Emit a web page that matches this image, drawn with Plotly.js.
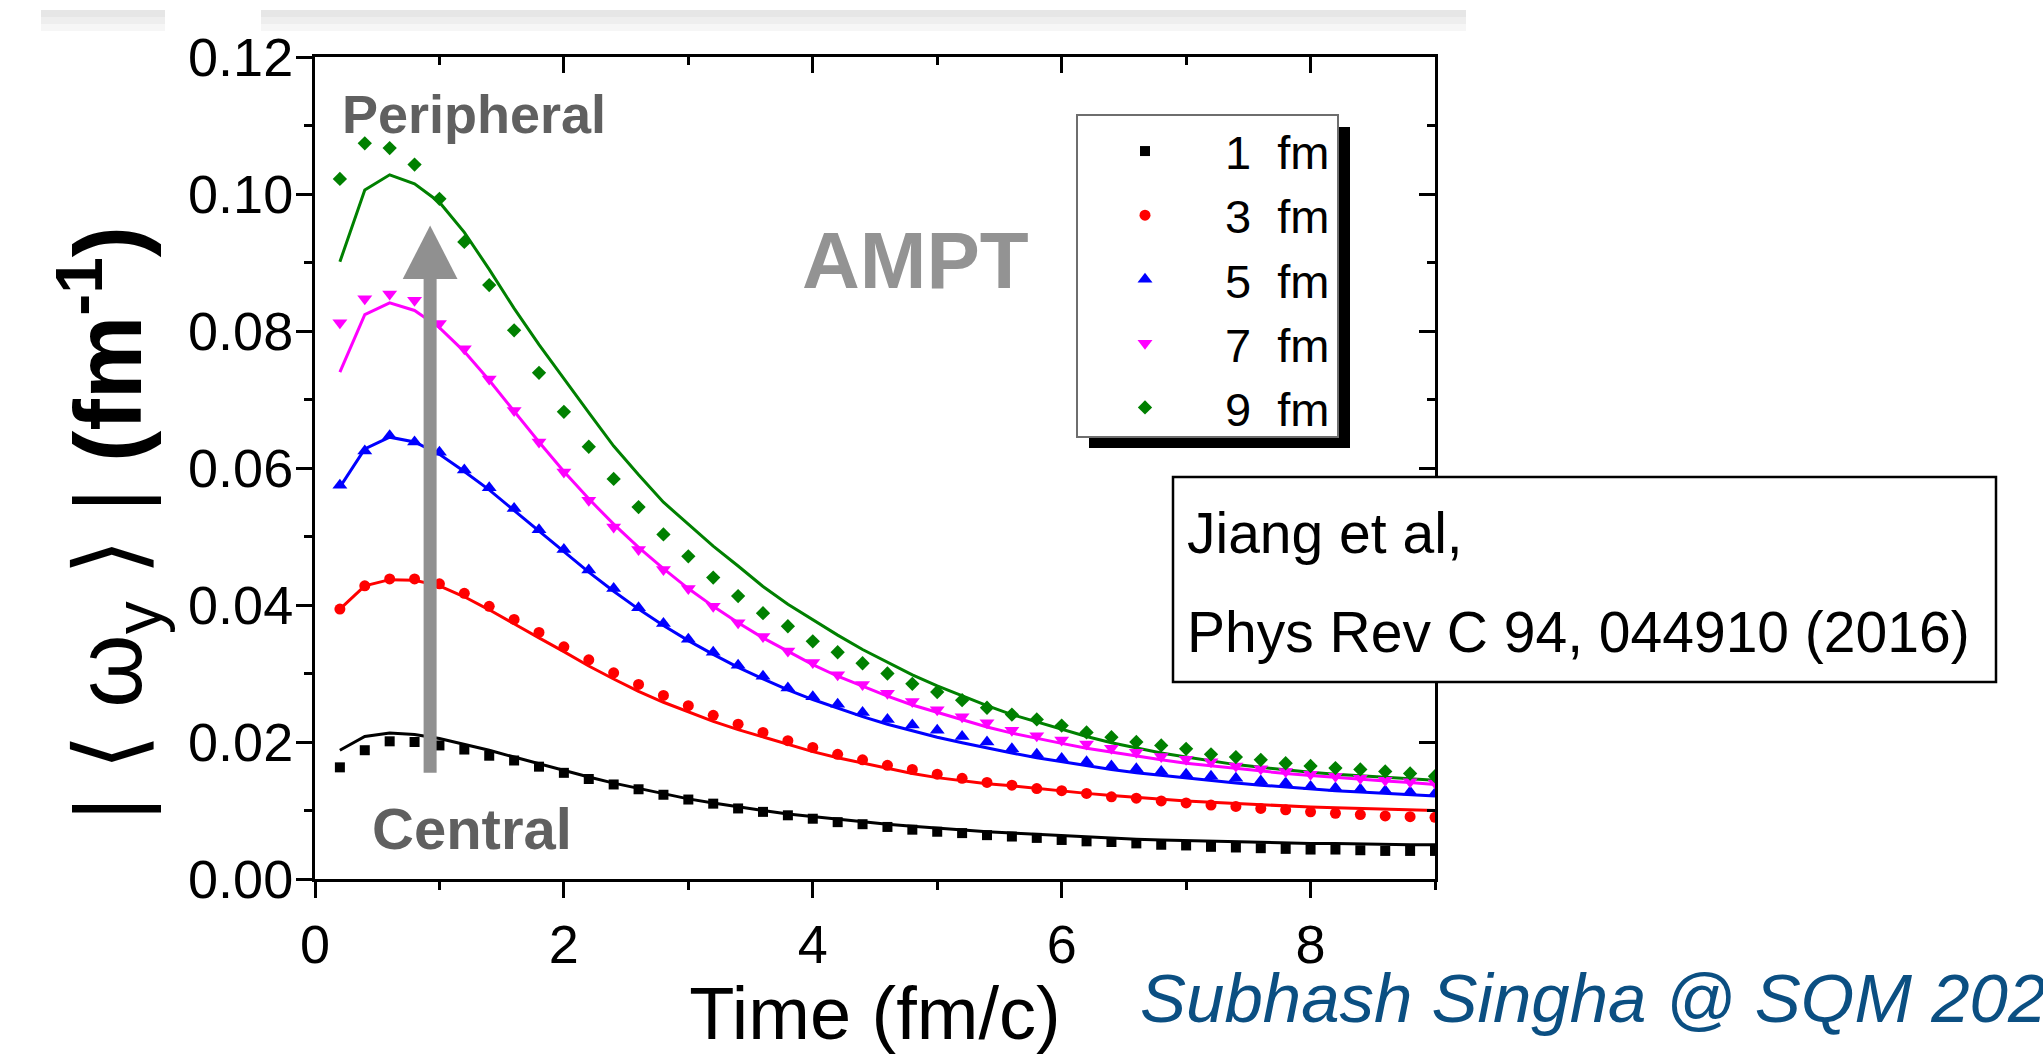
<!DOCTYPE html>
<html>
<head>
<meta charset="utf-8">
<script src="https://cdn.plot.ly/plotly-3.0.1.min.js"></script>
<style>html,body{margin:0;padding:0;background:#fff;}#chart{width:2043px;height:1055px;}</style>
</head>
<body>
<div id="chart"></div>
<script>
// ---- data ----
const time = [0.2,0.4,0.6,0.8,1.0,1.2,1.4,1.6,1.8,2.0,2.2,2.4,2.6,2.8,3.0,3.2,3.4,3.6,3.8,4.0,4.2,4.4,4.6,4.8,5.0,5.2,5.4,5.6,5.8,6.0,6.2,6.4,6.6,6.8,7.0,7.2,7.4,7.6,7.8,8.0,8.2,8.4,8.6,8.8,9.0];
const seriesNames = ['1\u00a0\u00a0fm','3\u00a0\u00a0fm','5\u00a0\u00a0fm','7\u00a0\u00a0fm','9\u00a0\u00a0fm'];

const pts_b1 = [0.0163,0.0188,0.0201,0.0200,0.0195,0.0189,0.0180,0.0173,0.0164,0.0155,0.0146,0.0138,0.0131,0.0123,0.0116,0.0110,0.0103,0.0098,0.0093,0.0088,0.0083,0.0080,0.0076,0.0072,0.0069,0.0067,0.0064,0.0062,0.0060,0.0057,0.0055,0.0054,0.0052,0.0050,0.0049,0.0047,0.0046,0.0045,0.0044,0.0043,0.0043,0.0042,0.0041,0.0041,0.0041];
const pts_b3 = [0.0394,0.0428,0.0438,0.0438,0.0431,0.0417,0.0398,0.0379,0.0360,0.0339,0.0320,0.0301,0.0284,0.0268,0.0253,0.0239,0.0226,0.0214,0.0202,0.0192,0.0182,0.0174,0.0166,0.0160,0.0153,0.0147,0.0141,0.0137,0.0132,0.0129,0.0125,0.0120,0.0118,0.0114,0.0111,0.0108,0.0106,0.0103,0.0101,0.0098,0.0096,0.0094,0.0092,0.0091,0.0090];
const pts_b5 = [0.0575,0.0625,0.0647,0.0638,0.0623,0.0597,0.0571,0.0541,0.0510,0.0481,0.0451,0.0424,0.0396,0.0373,0.0350,0.0331,0.0312,0.0296,0.0279,0.0266,0.0255,0.0243,0.0233,0.0225,0.0217,0.0208,0.0200,0.0190,0.0182,0.0176,0.0171,0.0165,0.0161,0.0157,0.0153,0.0150,0.0147,0.0143,0.0140,0.0135,0.0133,0.0131,0.0129,0.0127,0.0125];
const pts_b7 = [0.0812,0.0847,0.0854,0.0845,0.0811,0.0774,0.0730,0.0684,0.0638,0.0594,0.0553,0.0514,0.0481,0.0452,0.0424,0.0398,0.0374,0.0354,0.0333,0.0316,0.0298,0.0284,0.0271,0.0259,0.0247,0.0237,0.0228,0.0217,0.0209,0.0203,0.0197,0.0191,0.0185,0.0179,0.0175,0.0171,0.0165,0.0161,0.0157,0.0153,0.0150,0.0147,0.0144,0.0142,0.0140];
const pts_b9 = [0.1022,0.1074,0.1067,0.1043,0.0993,0.0930,0.0867,0.0801,0.0739,0.0682,0.0631,0.0584,0.0543,0.0503,0.0471,0.0440,0.0413,0.0388,0.0369,0.0347,0.0331,0.0315,0.0300,0.0285,0.0273,0.0261,0.0250,0.0240,0.0233,0.0224,0.0214,0.0207,0.0200,0.0195,0.0190,0.0182,0.0178,0.0174,0.0169,0.0165,0.0162,0.0160,0.0157,0.0154,0.0150];

const line_b1 = [0.0188,0.0208,0.0213,0.0211,0.0205,0.0197,0.0188,0.0178,0.0168,0.0158,0.0149,0.0140,0.0132,0.0124,0.0117,0.0111,0.0105,0.0100,0.0095,0.0091,0.0087,0.0083,0.0080,0.0077,0.0074,0.0071,0.0069,0.0067,0.0065,0.0063,0.0061,0.0060,0.0058,0.0057,0.0056,0.0055,0.0054,0.0053,0.0053,0.0052,0.0052,0.0051,0.0051,0.0050,0.0050];
const line_b3 = [0.0394,0.0428,0.0437,0.0436,0.0428,0.0412,0.0393,0.0372,0.0352,0.0332,0.0311,0.0292,0.0274,0.0258,0.0244,0.0230,0.0218,0.0207,0.0196,0.0186,0.0177,0.0169,0.0161,0.0154,0.0148,0.0143,0.0139,0.0136,0.0132,0.0128,0.0125,0.0122,0.0119,0.0116,0.0114,0.0112,0.0110,0.0108,0.0106,0.0105,0.0104,0.0103,0.0102,0.0101,0.0100];
const line_b5 = [0.0572,0.0628,0.0645,0.0638,0.0620,0.0595,0.0568,0.0538,0.0507,0.0477,0.0448,0.0420,0.0394,0.0370,0.0348,0.0328,0.0309,0.0292,0.0276,0.0262,0.0249,0.0237,0.0226,0.0216,0.0207,0.0199,0.0191,0.0184,0.0177,0.0171,0.0165,0.0160,0.0155,0.0151,0.0147,0.0143,0.0140,0.0137,0.0134,0.0132,0.0129,0.0127,0.0125,0.0123,0.0121];
const line_b7 = [0.0740,0.0824,0.0841,0.0830,0.0805,0.0770,0.0728,0.0683,0.0638,0.0595,0.0555,0.0518,0.0484,0.0453,0.0424,0.0398,0.0374,0.0352,0.0332,0.0313,0.0296,0.0281,0.0267,0.0254,0.0243,0.0232,0.0222,0.0213,0.0205,0.0198,0.0191,0.0185,0.0179,0.0174,0.0169,0.0165,0.0161,0.0157,0.0154,0.0151,0.0148,0.0145,0.0143,0.0141,0.0138];
const line_b9 = [0.0901,0.1006,0.1028,0.1015,0.0988,0.0944,0.0890,0.0833,0.0780,0.0730,0.0681,0.0632,0.0590,0.0550,0.0518,0.0486,0.0457,0.0427,0.0401,0.0378,0.0356,0.0335,0.0316,0.0298,0.0282,0.0267,0.0253,0.0240,0.0229,0.0218,0.0208,0.0199,0.0191,0.0184,0.0178,0.0172,0.0167,0.0163,0.0159,0.0156,0.0153,0.0151,0.0148,0.0146,0.0144];

const xTickVals = [0,2,4,6,8];
const yTickVals = [0.00,0.02,0.04,0.06,0.08,0.10,0.12];

// ---- styles ----
const FONT = '"Liberation Sans", Arial, Helvetica, "DejaVu Sans", sans-serif';
const colors = ['#000000','#ff0000','#0000ff','#ff00ff','#008000'];
const symbols = ['square','circle','triangle-up','triangle-down','diamond'];
const msizes = [10,11,13,13,11];
const pointSets = [pts_b1,pts_b3,pts_b5,pts_b7,pts_b9];
const lineSets = [line_b1,line_b3,line_b5,line_b7,line_b9];

const L = 315, R = 1435, T = 57, B = 879;
const px = X => (X - L) / (R - L);
const py = Y => (B - Y) / (B - T);

const traces = [];
lineSets.forEach((ys, i) => {
  traces.push({x: time, y: ys, mode: 'lines', type: 'scatter', showlegend: false,
    line: {color: colors[i], width: 3}, hoverinfo: 'skip'});
});
pointSets.forEach((ys, i) => {
  traces.push({x: time, y: ys, mode: 'markers', type: 'scatter', name: seriesNames[i],
    marker: {color: colors[i], symbol: symbols[i], size: msizes[i], line: {width: 0}}});
});
traces.push({x: [], y: [], xaxis: 'x2', yaxis: 'y2', type: 'scatter', showlegend: false});

const axCommon = {showline: true, linecolor: '#000', linewidth: 3, showgrid: false, zeroline: false,
  tickcolor: '#000', tickwidth: 3, ticklen: 16, automargin: false};

const shapes = [];
// top light-grey slide bars
[[41,165],[261,1466]].forEach(([a,b]) => {
  [[10,17,'#e6e6e6'],[17,24,'#eeeeee'],[24,31,'#f6f6f6']].forEach(([y0,y1,c]) => {
    shapes.push({type:'rect', xref:'paper', yref:'paper', x0:px(a), x1:px(b), y0:py(y0), y1:py(y1),
      fillcolor:c, line:{width:0}, layer:'above'});
  });
});
// grey arrow (central -> peripheral)
shapes.push({type:'line', xref:'x', yref:'y', x0:0.925, x1:0.925, y0:0.0155, y1:0.0878,
  line:{color:'#909090', width:13}, layer:'above'});
shapes.push({type:'path', xref:'x', yref:'y', path:'M 0.705 0.0876 L 1.145 0.0876 L 0.925 0.0954 Z',
  fillcolor:'#909090', line:{width:0}, layer:'above'});
// legend shadow and frame
shapes.push({type:'rect', xref:'paper', yref:'paper', x0:px(1089), x1:px(1350), y0:py(448), y1:py(127),
  fillcolor:'#000', line:{width:0}, layer:'above'});
shapes.push({type:'rect', xref:'paper', yref:'paper', x0:px(1077), x1:px(1338), y0:py(437), y1:py(115),
  fillcolor:'#fff', line:{color:'#6e6e6e', width:2}, layer:'above'});
// citation box
shapes.push({type:'rect', xref:'paper', yref:'paper', x0:px(1173), x1:px(1996), y0:py(682), y1:py(477),
  fillcolor:'#fff', line:{color:'#000', width:2.5}, layer:'above'});

const ann = (text, X, Ymid, size, opts) => Object.assign({text, xref:'paper', yref:'paper',
  x: px(X), y: py(Ymid), xanchor:'left', yanchor:'middle', showarrow:false,
  font:{family:FONT, size, color:'#000'}}, opts || {});

const annotations = [
  ann('<b>Peripheral</b>', 340, 114, 54, {font:{family:FONT, size:54, color:'#606060'}}),
  ann('<b>Central</b>', 370, 828, 58, {font:{family:FONT, size:58, color:'#606060'}}),
  ann('<b>AMPT</b>', 800, 260, 80, {font:{family:FONT, size:80, color:'#939393'}}),
  ann('Jiang et al,', 1185, 533, 57),
  ann('Phys Rev C 94, 044910 (2016)', 1185, 632, 57),
  ann('<i>Subhash Singha @ SQM 2022</i>', 1138, 998, 69, {font:{family:FONT, size:69, color:'#0b4f82'}}),
  {text:'| \u27e8 ω<sub>y</sub> \u27e9 | <b>(fm<sup>-1</sup>)</b>', xref:'paper', yref:'paper', x:px(108), y:py(524),
   xanchor:'center', yanchor:'middle', textangle:-90, showarrow:false, font:{family:FONT, size:94, color:'#000'}}
];

const layout = {
  width: 2043, height: 1055,
  margin: {l: L, r: 2043 - R, t: T, b: 1055 - B, pad: 0},
  paper_bgcolor: '#fff', plot_bgcolor: '#fff',
  font: {family: FONT, color: '#000', size: 49},
  showlegend: true,
  legend: {x: px(1065), y: py(114), xanchor: 'left', yanchor: 'top', bgcolor: 'rgba(0,0,0,0)',
    borderwidth: 0, font: {family: FONT, size: 47, color: '#000'}, itemwidth: 150, tracegroupgap: 0},
  xaxis: Object.assign({}, axCommon, {range: [0, 9], tickvals: xTickVals, ticktext: xTickVals.map(String),
    ticks: 'outside', tickfont: {family: FONT, size: 54, color: '#000'},
    minor: {dtick: 1, tick0: 0, ticks: 'outside', ticklen: 8, tickwidth: 3, tickcolor: '#000', showgrid: false},
    title: {text: 'Time (fm/c)', font: {family: FONT, size: 74, color: '#000'}, standoff: 35}}),
  yaxis: Object.assign({}, axCommon, {range: [0, 0.12], tickvals: yTickVals, tickformat: '.2f',
    ticks: 'outside', tickfont: {family: FONT, size: 54, color: '#000'}, ticklabelstandoff: -8,
    minor: {dtick: 0.01, tick0: 0, ticks: 'outside', ticklen: 8, tickwidth: 3, tickcolor: '#000', showgrid: false}}),
  xaxis2: Object.assign({}, axCommon, {overlaying: 'x', side: 'top', anchor: 'y', range: [0, 9], dtick: 2, tick0: 0,
    ticks: 'inside', showticklabels: false,
    minor: {dtick: 1, tick0: 0, ticks: 'inside', ticklen: 8, tickwidth: 3, tickcolor: '#000', showgrid: false}}),
  yaxis2: Object.assign({}, axCommon, {overlaying: 'y', side: 'right', anchor: 'x', range: [0, 0.12], dtick: 0.02, tick0: 0,
    ticks: 'inside', showticklabels: false,
    minor: {dtick: 0.01, tick0: 0, ticks: 'inside', ticklen: 8, tickwidth: 3, tickcolor: '#000', showgrid: false}}),
  shapes, annotations
};

Plotly.newPlot('chart', traces, layout, {displayModeBar: false, staticPlot: true});
</script>
</body>
</html>
